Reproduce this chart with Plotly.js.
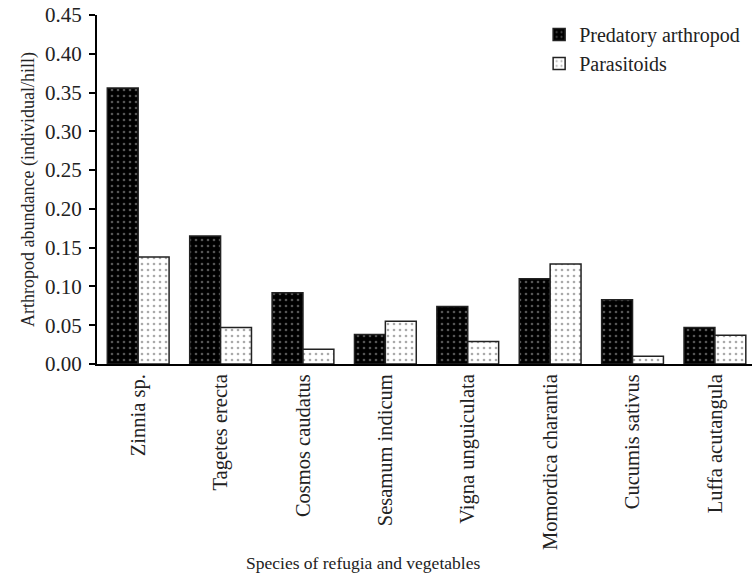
<!DOCTYPE html>
<html><head><meta charset="utf-8">
<script src="https://cdn.plot.ly/plotly-3.0.1.min.js"></script>
<style>body{margin:0;background:#fff}</style>
</head><body>
<div id="chart" style="width:752px;height:580px"></div>
<script>
const categories = ["Zinnia sp.", "Tagetes erecta", "Cosmos caudatus", "Sesamum indicum", "Vigna unguiculata", "Momordica charantia", "Cucumis sativus", "Luffa acutangula"];
const predatory = [0.356, 0.165, 0.092, 0.038, 0.074, 0.110, 0.083, 0.047];
const parasitoids = [0.138, 0.047, 0.019, 0.055, 0.029, 0.129, 0.010, 0.037];
const yTicks = [0, 0.05, 0.10, 0.15, 0.20, 0.25, 0.30, 0.35, 0.40, 0.45];
const xTitle = "Species of refugia and vegetables";
const yTitle = "Arthropod abundance (individual/hill)";

const font = {family: "Liberation Serif, Times New Roman, serif", color: "#222"};
const traces = [
  {type: "bar", name: "Predatory arthropod", x: categories, y: predatory,
   marker: {color: "#000", line: {color: "#222", width: 1.5},
            pattern: {shape: ".", fgcolor: "#555", bgcolor: "#000", size: 6, solidity: 0.15}}},
  {type: "bar", name: "Parasitoids", x: categories, y: parasitoids,
   marker: {color: "#fff", line: {color: "#222", width: 1.5},
            pattern: {shape: ".", fgcolor: "#aaa", bgcolor: "#fff", size: 6, solidity: 0.15}}}
];
const layout = {
  width: 752, height: 580,
  margin: {l: 97, r: 0, t: 15, b: 216},
  paper_bgcolor: "#fff", plot_bgcolor: "#fff",
  font: Object.assign({size: 16}, font),
  barmode: "group", bargap: 0.25, bargroupgap: 0,
  showlegend: true,
  legend: {x: 0.675, y: 1.0, xanchor: "left", yanchor: "top", bgcolor: "rgba(0,0,0,0)",
           font: Object.assign({size: 20}, font), tracegroupgap: 6, itemwidth: 30},
  xaxis: {
    type: "category", range: [-0.5, 7.45], tickangle: -90,
    showline: true, linecolor: "#000", linewidth: 2, ticks: "", showgrid: false,
    tickfont: Object.assign({size: 20.5}, font)
  },
  yaxis: {
    range: [0, 0.45], tickvals: yTicks, tickformat: ".2f",
    showline: true, linecolor: "#000", linewidth: 2, ticks: "outside", ticklen: 6, tickwidth: 2, tickcolor: "#000",
    ticklabelstandoff: 3,
    showgrid: false, zeroline: false,
    tickfont: Object.assign({size: 21}, font),
    title: {text: yTitle, font: Object.assign({size: 18}, font), standoff: 6}
  },
  annotations: [{
    text: xTitle, xref: "paper", yref: "paper", x: 0.406, y: -0.57,
    xanchor: "center", yanchor: "middle", showarrow: false,
    font: Object.assign({size: 17.5}, font)
  }]
};
Plotly.newPlot("chart", traces, layout, {displayModeBar: false});
</script>
</body></html>
